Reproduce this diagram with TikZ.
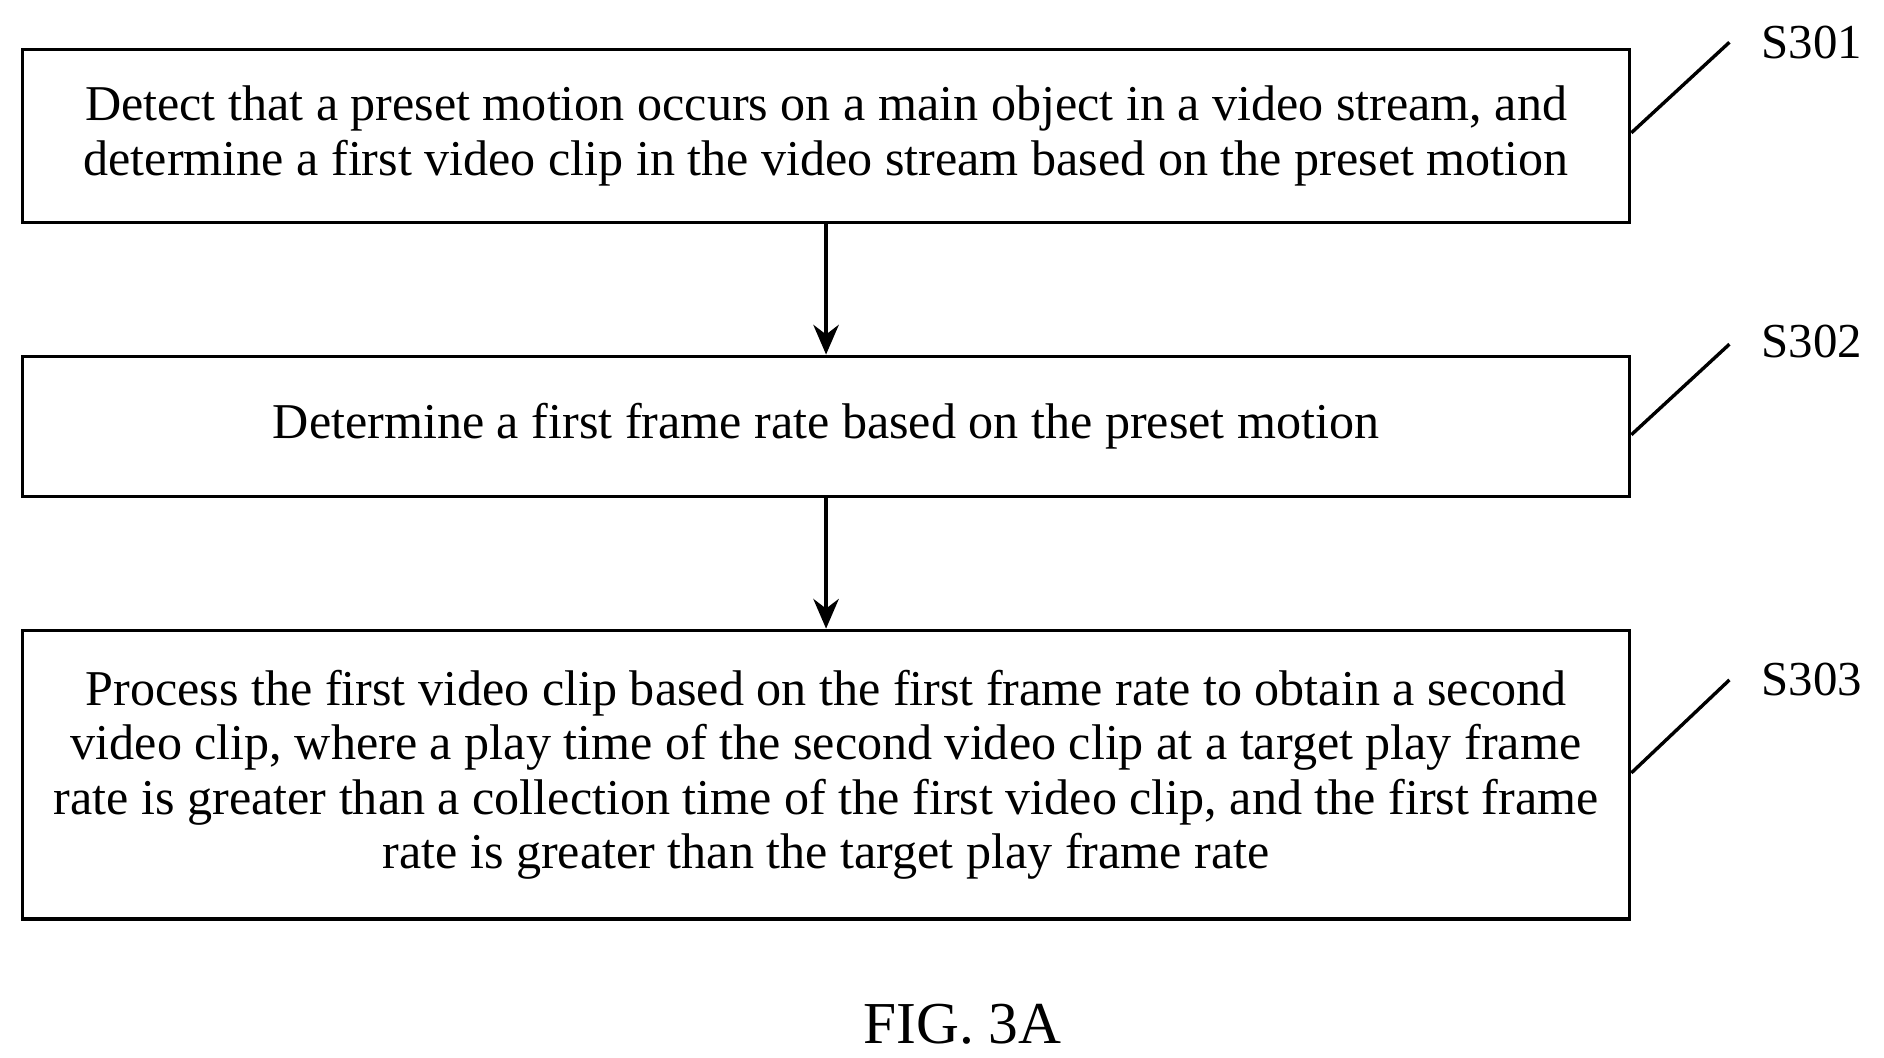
\documentclass[tikz,border=0pt]{standalone}
\usepackage{fontspec}
\setmainfont{Liberation Serif}
\usetikzlibrary{arrows.meta}
\begin{document}
\begin{tikzpicture}[x=0.01cm,y=-0.01cm,
 box/.style={draw,line width=0.8pt,minimum width=13.3cm,align=center,inner sep=0pt,font=\fontsize{11.8}{12.8}\selectfont},
 lbl/.style={font=\fontsize{11.5}{12.8}\selectfont,anchor=west,inner sep=0pt},
 arr/.style={-{Stealth[length=7pt,width=6pt]},line width=0.8pt}]
\useasboundingbox (0,0) rectangle (1560,876);
\node[box,minimum height=1.43cm] (b1) at (684,112.5) {Detect that a preset motion occurs on a main object in a video stream, and\\determine a first video clip in the video stream based on the preset motion};
\node[box,minimum height=1.16cm] (b2) at (684,353) {Determine a first frame rate based on the preset motion};
\node[box,minimum height=2.39cm] (b3) at (684,641.5) {Process the first video clip based on the first frame rate to obtain a second\\video clip, where a play time of the second video clip at a target play frame\\rate is greater than a collection time of the first video clip, and the first frame\\rate is greater than the target play frame rate};
\draw[arr] (b1) -- (b2);
\draw[arr] (b2) -- (b3);
\coordinate (c1) at (1432,35); \coordinate (c2) at (1432,285); \coordinate (c3) at (1432,563);
\draw[line width=0.8pt] (b1.east |- 0,110) -- (c1);
\draw[line width=0.8pt] (b2.east |- 0,360) -- (c2);
\draw[line width=0.8pt] (b3.east |- 0,640) -- (c3);
\node[lbl] (l1) at (1458,35) {S301};
\node[lbl] (l2) at (1458,283) {S302};
\node[lbl] (l3) at (1458,563) {S303};
\node[font=\fontsize{14}{16}\selectfont] (fig) at (797,848) {FIG. 3A};
\end{tikzpicture}
\end{document}
